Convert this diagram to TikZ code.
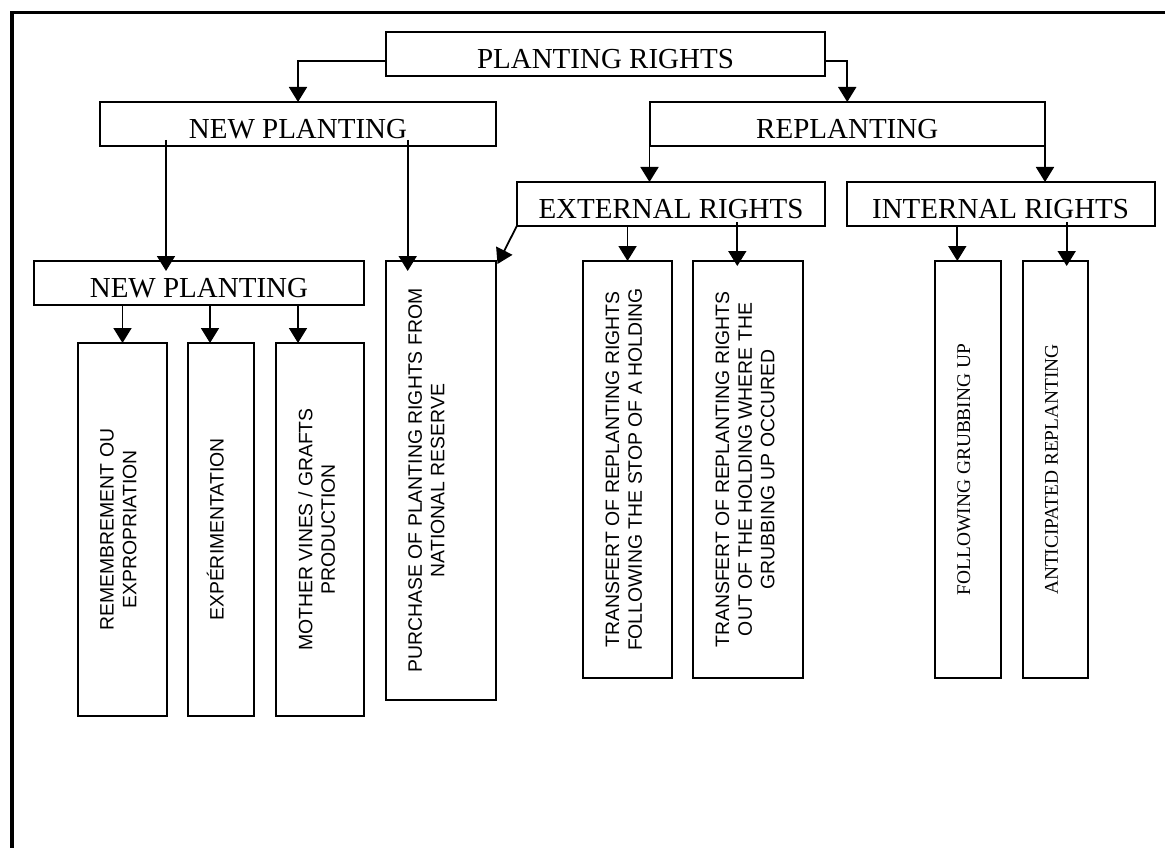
\documentclass[tikz,border=0pt]{standalone}
\usepackage{fontspec}
\setmainfont{Liberation Serif}
\newfontfamily\arialf{Liberation Sans}
\usetikzlibrary{arrows.meta,calc}
\begin{document}
\begin{tikzpicture}[x=1pt,y=-1pt,
  box/.style={draw, line width=2pt, inner sep=0pt, outer sep=0pt, anchor=north west},
  hdr/.style={font=\fontsize{29}{34}\selectfont, inner sep=0pt, anchor=base},
  vt/.style={font=\arialf\fontsize{19.4}{22.7}\selectfont, rotate=90, anchor=north, inner sep=0pt, align=center},
  vs/.style={font=\fontsize{19.4}{22.7}\selectfont, rotate=90, anchor=north, inner sep=0pt, align=center},
  arr/.style={line width=1.8pt, -{Triangle[length=15pt,width=18pt]}}]
\useasboundingbox (0,0) rectangle (1165,848);
\fill[white] (0,0) rectangle (1165,848);
% outer frame (left and top only)
\draw[line width=3.6pt] (11.7,860) -- (11.7,12.7) -- (1170,12.7);

% header boxes
\node[box, minimum width=439pt, minimum height=44pt] (pr) at (386,32) {};
\node[box, minimum width=396pt, minimum height=44pt] (np1) at (100,102) {};
\node[box, minimum width=395.5pt, minimum height=44pt] (rep) at (649.5,102) {};
\node[box, minimum width=308pt, minimum height=43.7pt] (ext) at (517,182) {};
\node[box, minimum width=307.8pt, minimum height=43.7pt] (int) at (846.7,182) {};
\node[box, minimum width=329.1pt, minimum height=43.5pt] (np2) at (34.4,261) {};

% leaf boxes
\node[box, minimum width=89pt, minimum height=373pt] (c1) at (78,343) {};
\node[box, minimum width=66pt, minimum height=373pt] (c2) at (188,343) {};
\node[box, minimum width=88pt, minimum height=373pt] (c3) at (276,343) {};
\node[box, minimum width=110pt, minimum height=439pt] (pur) at (386,261) {};
\node[box, minimum width=88.3pt, minimum height=417pt] (t1) at (583.4,261) {};
\node[box, minimum width=110pt, minimum height=417pt] (t2) at (693.3,261) {};
\node[box, minimum width=66pt, minimum height=417pt] (fol) at (935,261) {};
\node[box, minimum width=65.6pt, minimum height=417pt] (ant) at (1022.7,261) {};

% header texts
\node[hdr] (prL) at ([yshift=7.3pt]pr.south) {PLANTING RIGHTS};
\node[hdr] (np1L) at ([yshift=7.3pt]np1.south) {NEW PLANTING};
\node[hdr] (repL) at ([yshift=7.3pt]rep.south) {REPLANTING};
\node[hdr] (extL) at ([yshift=7.3pt]ext.south) {EXTERNAL RIGHTS};
\node[hdr] (intL) at ([yshift=7.3pt]int.south) {INTERNAL RIGHTS};
\node[hdr] (np2L) at ([yshift=7.3pt]np2.south) {NEW PLANTING};

% vertical texts
\node[vt] (c1L) at ([xshift=22pt]c1.west) {REMEMBREMENT OU\\EXPROPRIATION};
\node[vt] (c2L) at ([xshift=22pt]c2.west) {EXP\smash{É}RIMENTATION};
\node[vt] (c3L) at ([xshift=22pt]c3.west) {MOTHER VINES / GRAFTS\\PRODUCTION};
\node[vt] (purL) at ([xshift=22pt]pur.west) {PURCHASE OF PLANTING RIGHTS FROM\\NATIONAL RESERVE};
\node[vt] (t1L) at ([xshift=22pt]t1.west) {TRANSFERT OF REPLANTING RIGHTS\\FOLLOWING THE STOP OF A HOLDING};
\node[vt] (t2L) at ([xshift=22pt]t2.west) {TRANSFERT OF REPLANTING RIGHTS\\OUT OF THE HOLDING WHERE THE\\GRUBBING UP OCCURED};
\node[vs] (folL) at ([xshift=22pt]fol.west) {FOLLOWING GRUBBING UP};
\node[vs] (antL) at ([xshift=22pt]ant.west) {ANTICIPATED REPLANTING};

% connectors
\draw[arr] ([yshift=-7pt]pr.west) -| (np1.north);
\draw[arr] ([yshift=-7pt]pr.east) -| (rep.north);
\draw[arr] ($(np1.south west)+(66,-6)$) -- ($(np2.north west)+(131.6,10)$);
\draw[arr] ($(np1.south west)+(307.7,-6)$) -- ($(pur.north west)+(21.7,10)$);
\draw[arr] (ext.south west) -- ($(pur.north east)+(1.5,3)$);
\draw[arr] (rep.south west) -- (rep.south west |- ext.north);
\draw[arr] (rep.south east) -- (rep.south east |- int.north);
\draw[arr] (ext.south -| t1.north) -- (t1.north);
\draw[arr] ($(ext.south -| t2.north west)+(44,-3.7)$) -- ($(t2.north west)+(44,5)$);
\draw[arr] ($(int.south -| fol.north west)+(22.3,0)$) -- ($(fol.north west)+(22.3,0)$);
\draw[arr] ($(int.south -| ant.north west)+(44,-3.7)$) -- ($(ant.north west)+(44,5)$);
\draw[arr] (np2.south -| c1.north) -- (c1.north);
\draw[arr] ($(np2.south -| c2.north west)+(22,0)$) -- ($(c2.north west)+(22,0)$);
\draw[arr] ($(np2.south -| c3.north west)+(22,0)$) -- ($(c3.north west)+(22,0)$);
\end{tikzpicture}
\end{document}
